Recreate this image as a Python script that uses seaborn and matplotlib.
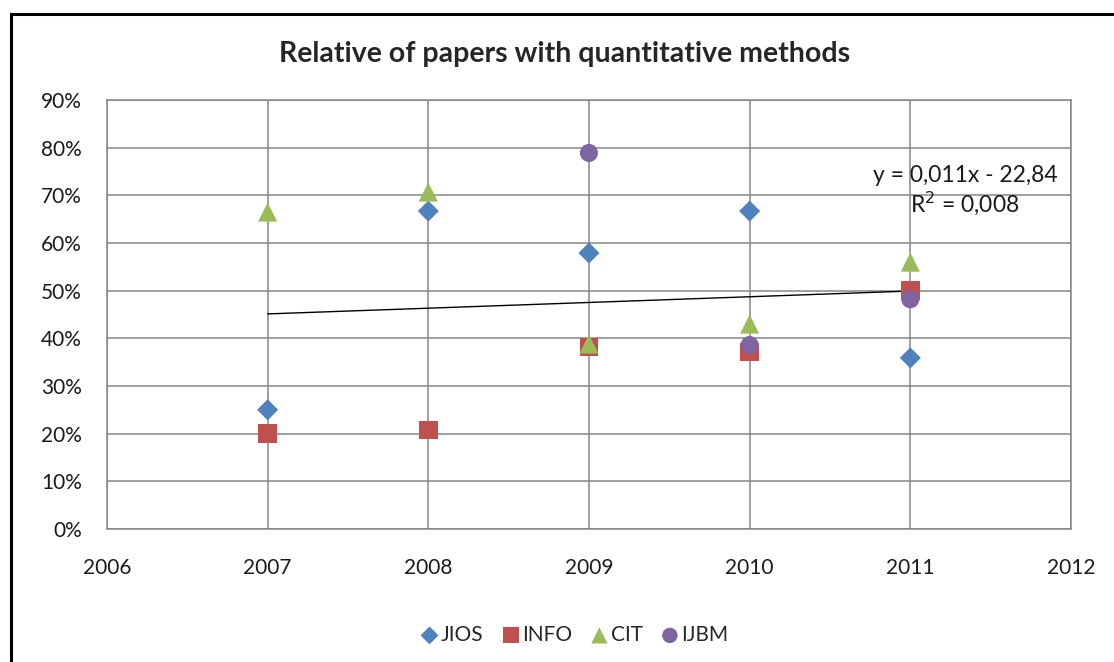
import matplotlib
matplotlib.use("Agg")
import matplotlib.pyplot as plt
from matplotlib.patches import Rectangle
from matplotlib.ticker import PercentFormatter
import numpy as np
import pandas as pd
import seaborn as sns

# values (share of papers, 0..1)
jios_years = [2007, 2008, 2009, 2010, 2011]
jios_vals = [0.25, 0.667, 0.579, 0.667, 0.359]
info_years = [2007, 2008, 2009, 2010, 2011]
info_vals = [0.20, 0.208, 0.382, 0.371, 0.501]
cit_years = [2007, 2008, 2009, 2010, 2011]
cit_vals = [0.665, 0.707, 0.388, 0.43, 0.56]
ijbm_years = [2009, 2010, 2011]
ijbm_vals = [0.789, 0.386, 0.482]

series_names = ["JIOS", "INFO", "CIT", "IJBM"]
trend_text = "y = 0,011x - 22,84\nR$^2$ = 0,008"

sns.set_style("white")
plt.rcParams['font.family'] = ['Lato', 'DejaVu Sans']

frames = []
for name, yrs, vals in zip(series_names,
                           [jios_years, info_years, cit_years, ijbm_years],
                           [jios_vals, info_vals, cit_vals, ijbm_vals]):
    frames.append(pd.DataFrame({"year": yrs, "share": vals, "series": name}))
df = pd.concat(frames, ignore_index=True)

colors = {"JIOS": "#4F81BD", "INFO": "#C0504D", "CIT": "#9BBB59", "IJBM": "#8064A2"}
markers = {"JIOS": "D", "INFO": "s", "CIT": "^", "IJBM": "o"}
sizes = {"JIOS": 115, "INFO": 180, "CIT": 190, "IJBM": 170}

fig = plt.figure(figsize=(11.14, 6.62), dpi=100)
ax = fig.add_axes([0.096, 0.2009, 0.8654, 0.648])

# linear trend over all points pooled
sns.regplot(data=df, x="year", y="share", scatter=False, ci=None, truncate=True,
            color="black", line_kws={"linewidth": 1.0}, ax=ax)

for name in series_names:
    sub = df[df["series"] == name]
    sns.scatterplot(data=sub, x="year", y="share", marker=markers[name], s=sizes[name],
                    color=colors[name], edgecolor="none", label=name, ax=ax, zorder=3)

ax.set_xlim(2006, 2012)
ax.set_ylim(0, 0.9)
ax.set_xticks(range(2006, 2013))
ax.set_yticks(np.arange(0, 0.91, 0.1))
ax.yaxis.set_major_formatter(PercentFormatter(xmax=1, decimals=0))
ax.grid(True, color="#868686", linewidth=1.1)
for sp in ax.spines.values():
    sp.set_color("#868686")
    sp.set_linewidth(1.1)
ax.tick_params(axis="both", length=0, labelsize=15, colors="#1a1a1a")
ax.tick_params(axis="y", pad=18)
ax.tick_params(axis="x", pad=21)
ax.set_xlabel("")
ax.set_ylabel("")

ax.text(2011.34, 0.71, trend_text, ha="center", va="center", fontsize=16.5,
        linespacing=1.15, color="#1a1a1a")

fig.text(0.507, 0.918, "Relative of papers with quantitative methods",
         ha="center", va="center", fontsize=20.5, fontweight="bold")

ax.legend_.remove()
handles, labels = ax.get_legend_handles_labels()
fig.legend(handles, labels, loc="center", bbox_to_anchor=(0.516, 0.041), ncol=4,
           frameon=False, fontsize=15, markerscale=0.85, handlelength=0.8,
           handletextpad=0.15, columnspacing=0.9)

fig.patches.append(Rectangle((0.0099, -0.5), 2.0, 1.479, transform=fig.transFigure,
                             fill=False, edgecolor="black", linewidth=2.2))

fig.savefig("out.png", dpi=100)
